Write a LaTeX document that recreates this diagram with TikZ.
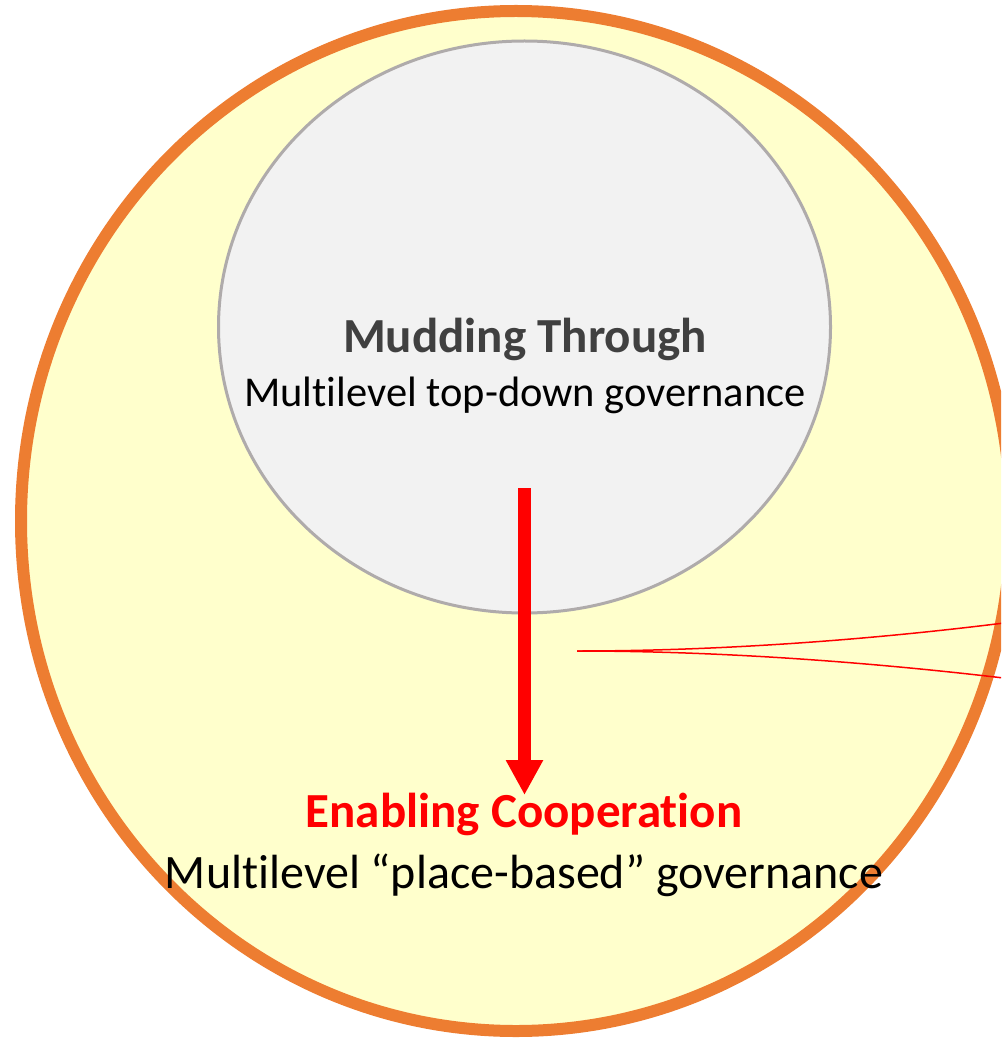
\documentclass[tikz,border=0pt]{standalone}
\usepackage{fontspec}
\setmainfont{Carlito}[Ligatures=NoCommon]
\usetikzlibrary{arrows.meta}
\definecolor{orangeE}{HTML}{ED7D31}
\definecolor{yellowF}{HTML}{FFFFCC}
\definecolor{grayF}{HTML}{F2F2F2}
\definecolor{grayS}{HTML}{AFABAB}
\definecolor{darkT}{HTML}{404040}
\tikzset{
  outerell/.style={draw=orangeE, fill=yellowF, line width=12pt},
  innerell/.style={draw=grayS, fill=grayF, line width=3pt},
  titletext/.style={anchor=base, inner sep=0pt, font=\bfseries\fontsize{49}{57}\selectfont},
  subtext/.style={anchor=base, inner sep=0pt, text=black},
  bigarrow/.style={draw=red, line width=13pt, -{Triangle[width=35pt,length=35pt]}},
  pointer/.style={draw=red, line width=1.5pt}
}
\begin{document}
\begin{tikzpicture}[x=1pt,y=-1pt]
\useasboundingbox (0,0) rectangle (1001,1040);
\clip (0,0) rectangle (1001,1040);
\path[outerell] (516,521) ellipse [x radius=495, y radius=510];
\path[innerell] (524.5,327) ellipse [x radius=306, y radius=286];
\node[titletext, text=darkT] (mud) at (525,352) {Mudding Through};
\node[subtext, font=\fontsize{42.5}{50}\selectfont] (topdown) at (525,406) {Multilevel top-down governance};
\node[titletext, text=red] (enab) at (524,827) {Enabling Cooperation};
\node[subtext, font=\fontsize{48}{56}\selectfont] (place) at (524,888) {Multilevel “place-based” governance};
\coordinate (astart) at (524.5,488);
\coordinate (aend) at (524.5,795);
\draw[bigarrow] (astart) -- (aend);
\coordinate (ptr) at (577,651);
\coordinate (up) at (1012,622);
\coordinate (down) at (1012,679);
\draw[pointer] (ptr) .. controls (720,651) and (870,640) .. (up);
\draw[pointer] (ptr) .. controls (720,651) and (870,662) .. (down);
\end{tikzpicture}
\end{document}
